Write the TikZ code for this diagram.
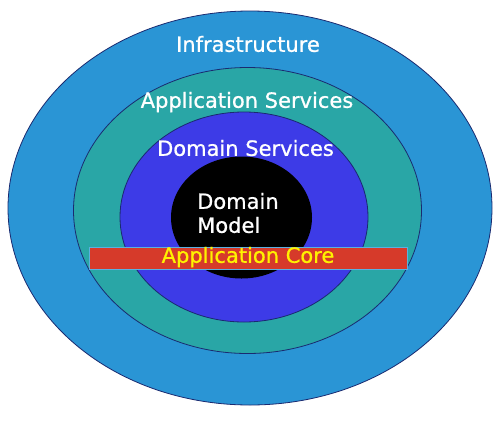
\documentclass[tikz,border=0pt]{standalone}
\usepackage{fontspec}
\setmainfont{DejaVu Sans}
\newfontfamily\lblfont[FakeBold=0.8]{DejaVu Sans}
\usetikzlibrary{shapes.geometric}
\definecolor{infrablue}{HTML}{2A95D5}
\definecolor{appteal}{HTML}{29A6A6}
\definecolor{domblue}{HTML}{3D3BE7}
\definecolor{corered}{HTML}{D63A2A}
\definecolor{rimdark}{HTML}{1A2A70}
\definecolor{barrim}{HTML}{5AB0E0}
\tikzset{
  layer/.style={ellipse, draw=rimdark, line width=0.8pt, inner sep=0pt},
  lbl/.style={font=\lblfont\fontsize{21}{24}\selectfont, text=white, inner sep=0pt}
}
\begin{document}
\begin{tikzpicture}[x=1pt,y=-1pt]
\useasboundingbox (0,0) rectangle (501,421);
\fill[white] (0,0) rectangle (501,421);
\node[layer, fill=infrablue, minimum width=484pt, minimum height=394pt] (infra) at (250,208) {};
\node[layer, fill=appteal, minimum width=348pt, minimum height=286pt] (appsvc) at (247.5,210.5) {};
\node[layer, fill=domblue, minimum width=248pt, minimum height=210pt] (domsvc) at (244,217) {};
\node[ellipse, fill=black, inner sep=0pt, minimum width=141pt, minimum height=122pt] (model) at (241.5,217.5) {};
\node[rectangle, fill=corered, draw=barrim, line width=0.6pt, minimum width=318pt, minimum height=22pt, inner sep=0pt] (core) at (248,258) {};
\node[lbl] (tinfra) at (248,44) {Infrastructure};
\node[lbl] (tapp) at (247,102) {Application Services};
\node[lbl] (tdom) at (245.5,148) {Domain Services};
\node[lbl, align=left, anchor=west, font=\lblfont\fontsize{21}{24}\selectfont] (tmodel) at (197,213) {Domain\\Model};
\node[lbl, text=yellow] (tcore) at (248,257) {Application Core};
\end{tikzpicture}
\end{document}
